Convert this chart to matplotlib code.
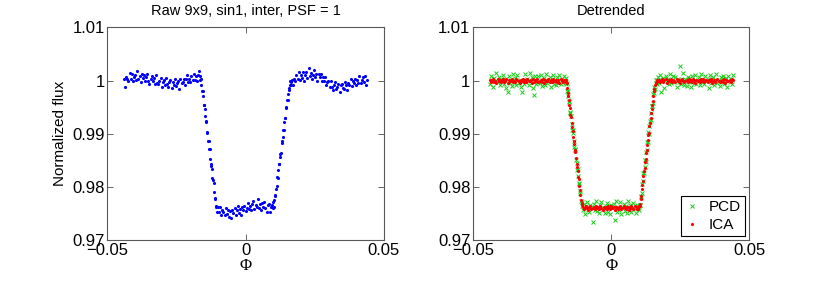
import matplotlib
matplotlib.use('Agg')
import matplotlib.pyplot as plt

plt.rcParams['font.family'] = ['Liberation Sans', 'DejaVu Sans']

# orbital phase of each sample (same sampling for raw and detrended curves)
phase = [
    -0.0440, -0.0436, -0.0432, -0.0428, -0.0424, -0.0420, -0.0416, -0.0412, -0.0408, -0.0404,
    -0.0400, -0.0396, -0.0392, -0.0388, -0.0384, -0.0380, -0.0376, -0.0372, -0.0368, -0.0364,
    -0.0360, -0.0356, -0.0352, -0.0348, -0.0344, -0.0340, -0.0336, -0.0332, -0.0328, -0.0324,
    -0.0320, -0.0316, -0.0312, -0.0308, -0.0304, -0.0300, -0.0296, -0.0292, -0.0288, -0.0284,
    -0.0280, -0.0276, -0.0272, -0.0268, -0.0264, -0.0260, -0.0256, -0.0252, -0.0248, -0.0244,
    -0.0240, -0.0236, -0.0232, -0.0228, -0.0224, -0.0220, -0.0216, -0.0212, -0.0208, -0.0204,
    -0.0200, -0.0196, -0.0192, -0.0188, -0.0184, -0.0180, -0.0176, -0.0172, -0.0168,
    -0.0166, -0.0164, -0.0162, -0.0160, -0.0158, -0.0156, -0.0154, -0.0152, -0.0150, -0.0148,
    -0.0146, -0.0144, -0.0142, -0.0140, -0.0138, -0.0136, -0.0134, -0.0132, -0.0130, -0.0128,
    -0.0126, -0.0124, -0.0122, -0.0120, -0.0118, -0.0116, -0.0114, -0.0112, -0.0110, -0.0108,
    -0.0106,
    -0.0104, -0.0100, -0.0096, -0.0092, -0.0088, -0.0084, -0.0080, -0.0076, -0.0072, -0.0068,
    -0.0064, -0.0060, -0.0056, -0.0052, -0.0048, -0.0044, -0.0040, -0.0036, -0.0032, -0.0028,
    -0.0024, -0.0020, -0.0016, -0.0012, -0.0008, -0.0004, 0.0000, 0.0004, 0.0008, 0.0012,
    0.0016, 0.0020, 0.0024, 0.0028, 0.0032, 0.0036, 0.0040, 0.0044, 0.0048, 0.0052,
    0.0056, 0.0060, 0.0064, 0.0068, 0.0072, 0.0076, 0.0080, 0.0084, 0.0088, 0.0092,
    0.0096,
    0.0098, 0.0100, 0.0102, 0.0104, 0.0106, 0.0108, 0.0110, 0.0112, 0.0114, 0.0116,
    0.0118, 0.0120, 0.0122, 0.0124, 0.0126, 0.0128, 0.0130, 0.0132, 0.0134, 0.0136,
    0.0138, 0.0140, 0.0142, 0.0144, 0.0146, 0.0148, 0.0150, 0.0152, 0.0154, 0.0156,
    0.0158, 0.0160, 0.0162, 0.0164, 0.0166,
    0.0168, 0.0172, 0.0176, 0.0180, 0.0184, 0.0188, 0.0192, 0.0196, 0.0200, 0.0204,
    0.0208, 0.0212, 0.0216, 0.0220, 0.0224, 0.0228, 0.0232, 0.0236, 0.0240, 0.0244,
    0.0248, 0.0252, 0.0256, 0.0260, 0.0264, 0.0268, 0.0272, 0.0276, 0.0280, 0.0284,
    0.0288, 0.0292, 0.0296, 0.0300, 0.0304, 0.0308, 0.0312, 0.0316, 0.0320, 0.0324,
    0.0328, 0.0332, 0.0336, 0.0340, 0.0344, 0.0348, 0.0352, 0.0356, 0.0360, 0.0364,
    0.0368, 0.0372, 0.0376, 0.0380, 0.0384, 0.0388, 0.0392, 0.0396, 0.0400, 0.0404,
    0.0408, 0.0412, 0.0416, 0.0420, 0.0424, 0.0428, 0.0432, 0.0436, 0.0440,
]

# raw photometry (9x9 aperture)
flux_raw = [
    1.0003, 0.9989, 1.0007, 1.0004, 1.0000, 1.0014, 1.0004, 1.0012, 0.9999, 1.0007,
    1.0011, 1.0002, 1.0018, 1.0004, 1.0008, 0.9997, 1.0013, 1.0005, 1.0010, 0.9999,
    1.0007, 1.0012, 0.9999, 0.9993, 1.0003, 1.0008, 0.9999, 1.0005, 0.9993, 1.0010,
    0.9996, 0.9994, 1.0000, 1.0005, 0.9989, 0.9997, 1.0001, 0.9992, 1.0005, 0.9994,
    0.9989, 0.9998, 1.0001, 0.9986, 0.9997, 0.9992, 1.0003, 0.9990, 0.9996, 1.0000,
    0.9985, 1.0004, 0.9995, 0.9998, 1.0003, 0.9992, 1.0003, 1.0010, 0.9997, 1.0003,
    0.9997, 1.0009, 1.0002, 1.0013, 1.0001, 1.0008, 0.9999, 1.0011, 1.0018,
    1.0009, 1.0002, 1.0004, 0.9991, 0.9981, 0.9980, 0.9971, 0.9955, 0.9954, 0.9946,
    0.9933, 0.9925, 0.9922, 0.9904, 0.9901, 0.9886, 0.9886, 0.9872, 0.9871, 0.9853,
    0.9843, 0.9840, 0.9834, 0.9817, 0.9813, 0.9808, 0.9791, 0.9779, 0.9778, 0.9762,
    0.9765,
    0.9753, 0.9762, 0.9753, 0.9762, 0.9747, 0.9756, 0.9753, 0.9748, 0.9761, 0.9749,
    0.9757, 0.9744, 0.9755, 0.9741, 0.9757, 0.9752, 0.9761, 0.9748, 0.9756, 0.9765,
    0.9752, 0.9759, 0.9748, 0.9763, 0.9756, 0.9765, 0.9755, 0.9761, 0.9770, 0.9759,
    0.9765, 0.9757, 0.9768, 0.9774, 0.9759, 0.9767, 0.9763, 0.9777, 0.9761, 0.9768,
    0.9757, 0.9770, 0.9763, 0.9771, 0.9760, 0.9753, 0.9766, 0.9769, 0.9753, 0.9762,
    0.9766,
    0.9761, 0.9771, 0.9763, 0.9775, 0.9784, 0.9785, 0.9796, 0.9802, 0.9818, 0.9817,
    0.9832, 0.9844, 0.9844, 0.9856, 0.9862, 0.9864, 0.9883, 0.9886, 0.9894, 0.9908,
    0.9908, 0.9922, 0.9929, 0.9930, 0.9950, 0.9949, 0.9963, 0.9963, 0.9974, 0.9986,
    0.9983, 0.9992, 0.9999, 0.9991, 0.9998,
    1.0002, 0.9991, 1.0003, 0.9999, 1.0011, 1.0004, 1.0016, 1.0001, 1.0011, 1.0005,
    1.0017, 1.0000, 1.0011, 1.0016, 1.0005, 1.0023, 1.0009, 1.0015, 1.0004, 1.0011,
    1.0020, 1.0006, 1.0012, 0.9999, 1.0013, 1.0006, 1.0013, 0.9999, 1.0007, 0.9999,
    1.0007, 0.9991, 0.9998, 0.9999, 0.9988, 1.0000, 0.9988, 0.9982, 0.9991, 0.9997,
    0.9984, 0.9988, 0.9994, 0.9979, 0.9991, 0.9994, 0.9986, 0.9984, 0.9997, 0.9992,
    0.9983, 0.9996, 0.9991, 1.0004, 0.9990, 0.9999, 0.9996, 1.0004, 0.9992, 1.0001,
    0.9996, 1.0008, 0.9995, 1.0002, 1.0006, 0.9998, 1.0008, 0.9991, 1.0002,
]

# detrended with PCD
flux_pcd = [
    0.9994, 1.0009, 1.0002, 0.9988, 1.0005, 1.0000, 1.0014, 0.9997, 1.0007, 0.9991,
    1.0004, 0.9999, 1.0011, 0.9993, 1.0003, 0.9986, 0.9978, 1.0008, 0.9996, 1.0001,
    0.9990, 1.0013, 0.9998, 1.0005, 0.9992, 1.0010, 0.9995, 1.0002, 0.9989, 0.9979,
    1.0000, 0.9994, 1.0012, 0.9997, 1.0004, 0.9991, 1.0015, 0.9999, 1.0006, 0.9987,
    0.9973, 1.0009, 0.9993, 0.9998, 1.0008, 0.9995, 1.0011, 0.9990, 1.0001, 1.0005,
    0.9992, 1.0013, 0.9996, 1.0000, 1.0007, 0.9988, 1.0003, 1.0010, 0.9994, 1.0002,
    0.9991, 1.0006, 0.9997, 1.0011, 0.9993, 1.0004, 0.9999, 1.0009, 0.9995,
    1.0005, 0.9994, 0.9995, 0.9980, 0.9981, 0.9971, 0.9961, 0.9960, 0.9942, 0.9939,
    0.9934, 0.9919, 0.9908, 0.9907, 0.9902, 0.9886, 0.9876, 0.9872, 0.9869, 0.9851,
    0.9846, 0.9832, 0.9834, 0.9821, 0.9807, 0.9806, 0.9792, 0.9789, 0.9773, 0.9772,
    0.9764,
    0.9756, 0.9769, 0.9750, 0.9764, 0.9771, 0.9759, 0.9753, 0.9767, 0.9762, 0.9735,
    0.9768, 0.9757, 0.9773, 0.9755, 0.9763, 0.9752, 0.9766, 0.9772, 0.9758, 0.9761,
    0.9751, 0.9765, 0.9770, 0.9754, 0.9764, 0.9749, 0.9767, 0.9760, 0.9769, 0.9738,
    0.9774, 0.9753, 0.9763, 0.9757, 0.9771, 0.9750, 0.9762, 0.9768, 0.9755, 0.9765,
    0.9752, 0.9773, 0.9759, 0.9766, 0.9754, 0.9761, 0.9770, 0.9758, 0.9751, 0.9767,
    0.9763,
    0.9764, 0.9756, 0.9767, 0.9767, 0.9782, 0.9784, 0.9789, 0.9806, 0.9811, 0.9826,
    0.9826, 0.9838, 0.9851, 0.9848, 0.9865, 0.9869, 0.9884, 0.9884, 0.9903, 0.9899,
    0.9914, 0.9924, 0.9926, 0.9940, 0.9952, 0.9952, 0.9958, 0.9975, 0.9977, 0.9989,
    0.9985, 1.0001, 0.9995, 1.0002, 0.9993,
    1.0007, 0.9996, 1.0011, 0.9978, 1.0002, 1.0005, 0.9987, 1.0008, 0.9999, 1.0003,
    0.9993, 1.0012, 0.9995, 1.0000, 1.0009, 0.9997, 1.0006, 0.9989, 1.0004, 0.9998,
    1.0028, 0.9994, 1.0001, 1.0014, 0.9992, 1.0003, 0.9990, 1.0007, 0.9998, 1.0005,
    0.9988, 1.0009, 1.0000, 0.9996, 1.0011, 0.9993, 1.0002, 1.0006, 0.9991, 1.0013,
    0.9997, 1.0001, 0.9994, 1.0008, 0.9999, 1.0004, 0.9986, 1.0010, 0.9995, 1.0003,
    1.0007, 0.9992, 1.0000, 1.0012, 0.9996, 1.0002, 0.9990, 1.0006, 0.9997, 1.0009,
    0.9993, 1.0001, 1.0005, 0.9989, 1.0008, 0.9998, 1.0004, 0.9994, 1.0010,
]

# detrended with ICA
flux_ica = [
    1.0002, 0.9997, 1.0001, 1.0004, 0.9998, 1.0000, 0.9996, 1.0003, 0.9999, 1.0002,
    0.9997, 1.0001, 1.0003, 0.9998, 1.0000, 1.0004, 0.9996, 1.0001, 0.9999, 1.0002,
    1.0003, 0.9997, 1.0000, 0.9998, 1.0004, 1.0001, 0.9999, 0.9996, 1.0002, 1.0000,
    1.0003, 0.9998, 1.0001, 0.9997, 1.0004, 0.9999, 1.0000, 1.0002, 0.9996, 1.0003,
    0.9998, 1.0001, 0.9999, 1.0004, 0.9997, 1.0000, 1.0002, 0.9998, 1.0003, 0.9996,
    1.0001, 0.9999, 1.0000, 1.0003, 0.9997, 1.0002, 0.9998, 1.0004, 0.9999, 1.0000,
    1.0001, 0.9997, 1.0002, 0.9996, 1.0003, 1.0000, 0.9998, 1.0001, 0.9999,
    1.0001, 0.9997, 0.9995, 0.9986, 0.9976, 0.9972, 0.9963, 0.9954, 0.9949, 0.9936,
    0.9931, 0.9921, 0.9913, 0.9906, 0.9895, 0.9887, 0.9881, 0.9869, 0.9865, 0.9854,
    0.9844, 0.9838, 0.9830, 0.9819, 0.9815, 0.9802, 0.9794, 0.9785, 0.9775, 0.9770,
    0.9766,
    0.9763, 0.9758, 0.9761, 0.9765, 0.9760, 0.9757, 0.9762, 0.9764, 0.9759, 0.9761,
    0.9763, 0.9758, 0.9765, 0.9760, 0.9762, 0.9759, 0.9764, 0.9761, 0.9757, 0.9763,
    0.9760, 0.9762, 0.9758, 0.9765, 0.9761, 0.9759, 0.9764, 0.9760, 0.9763, 0.9757,
    0.9762, 0.9761, 0.9758, 0.9763, 0.9765, 0.9759, 0.9760, 0.9764, 0.9761, 0.9758,
    0.9762, 0.9763, 0.9757, 0.9761, 0.9764, 0.9760, 0.9759, 0.9765, 0.9762, 0.9758,
    0.9761,
    0.9759, 0.9764, 0.9765, 0.9768, 0.9778, 0.9783, 0.9796, 0.9803, 0.9811, 0.9821,
    0.9830, 0.9836, 0.9848, 0.9852, 0.9864, 0.9870, 0.9879, 0.9889, 0.9897, 0.9902,
    0.9915, 0.9920, 0.9930, 0.9940, 0.9946, 0.9955, 0.9962, 0.9971, 0.9980, 0.9985,
    0.9991, 0.9995, 0.9996, 1.0001, 0.9999,
    0.9999, 1.0002, 0.9997, 1.0000, 1.0003, 0.9998, 1.0001, 1.0004, 0.9996, 1.0000,
    1.0002, 0.9999, 1.0003, 0.9997, 1.0001, 1.0000, 0.9998, 1.0004, 0.9999, 1.0002,
    0.9996, 1.0001, 1.0003, 1.0000, 0.9998, 0.9999, 1.0002, 0.9997, 1.0004, 1.0000,
    1.0001, 0.9998, 1.0003, 0.9999, 0.9996, 1.0002, 1.0000, 1.0001, 0.9997, 1.0003,
    0.9999, 1.0004, 0.9998, 1.0000, 1.0002, 0.9997, 1.0001, 0.9999, 1.0003, 0.9996,
    1.0000, 1.0002, 0.9998, 1.0001, 1.0004, 0.9999, 0.9997, 1.0000, 1.0002, 0.9998,
    1.0003, 0.9996, 1.0001, 1.0000, 0.9999, 1.0002, 0.9997, 1.0004, 1.0001,
]

xticks = [-0.05, 0, 0.05]
xtick_labels = ['\u22120.05', '0', '0.05']
yticks = [0.97, 0.98, 0.99, 1.0, 1.01]
ytick_labels = ['0.97', '0.98', '0.99', '1', '1.01']

fig = plt.figure(figsize=(8.3, 2.83), dpi=100)
ax1 = fig.add_axes([0.1295, 0.151, 0.3328, 0.752])
ax2 = fig.add_axes([0.5702, 0.151, 0.3328, 0.752])

ax1.plot(phase, flux_raw, '.', color='b', markersize=4.5, markeredgewidth=0)
ax2.plot(phase, flux_pcd, 'x', color=(0.1, 0.8, 0.1), markersize=3.5, markeredgewidth=0.7, label='PCD')
ax2.plot(phase, flux_ica, '.', color='r', markersize=4.5, markeredgewidth=0, label='ICA')

for ax in (ax1, ax2):
    ax.set_xlim(-0.05, 0.05)
    ax.set_ylim(0.97, 1.01)
    ax.set_xticks(xticks)
    ax.set_xticklabels(xtick_labels)
    ax.set_yticks(yticks)
    ax.set_yticklabels(ytick_labels)
    ax.tick_params(direction='in', length=4, width=0.6, top=True, right=True,
                   labelsize=12, pad=2, color='0.3')
    for s in ax.spines.values():
        s.set_color('0.35')
        s.set_linewidth(0.8)
    ax.set_xlabel('\u03a6', family='Liberation Serif', fontsize=12, labelpad=0)

ax1.set_title('Raw 9x9, sin1, inter, PSF = 1', fontsize=10.5, pad=9)
ax2.set_title('Detrended', fontsize=10.5, pad=9)
ax1.set_ylabel('Normalized flux', fontsize=11)

leg = ax2.legend(loc='lower right', fontsize=11, fancybox=False, framealpha=1,
                 edgecolor='k', borderaxespad=0.3, handlelength=1.0,
                 handletextpad=0.6, borderpad=0.25, labelspacing=0.25, markerscale=1.0)
leg.get_frame().set_linewidth(0.8)

fig.savefig('out.png', dpi=100)
